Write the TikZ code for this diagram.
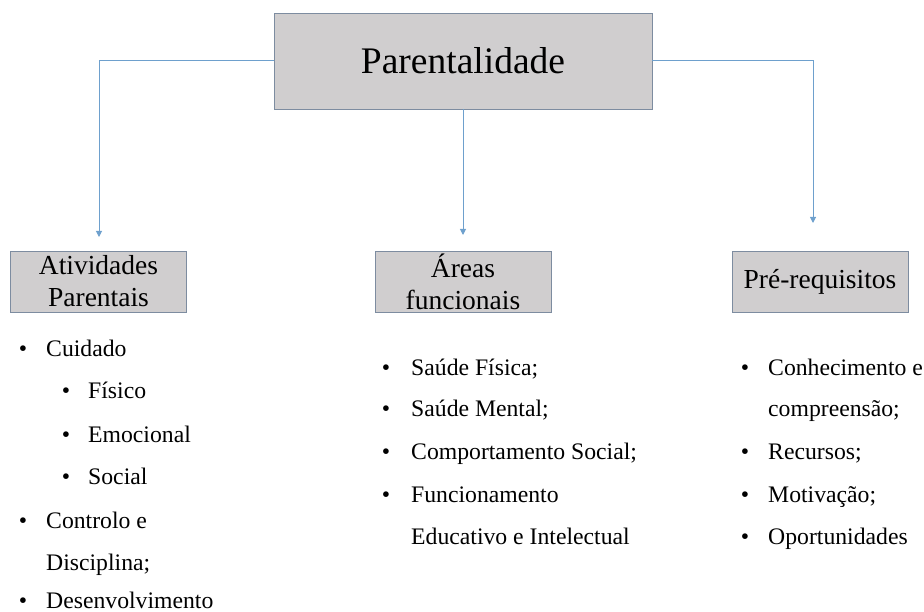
\documentclass[tikz,border=0pt]{standalone}
\usepackage{fontspec}
\setmainfont{Liberation Serif}
\usetikzlibrary{arrows.meta,calc}
\definecolor{boxfill}{RGB}{208,206,207}
\definecolor{boxline}{RGB}{125,140,160}
\definecolor{connblue}{RGB}{110,160,205}
\tikzset{
  x=1pt,y=-1pt,
  topbox/.style={draw=boxline,line width=0.9pt,fill=boxfill,minimum width=378pt,minimum height=96pt,inner sep=0pt,font=\fontsize{37.5}{42}\selectfont},
  catbox/.style={draw=boxline,line width=0.9pt,fill=boxfill,minimum width=176pt,minimum height=61pt,inner sep=0pt,align=center,font=\fontsize{27.5}{32}\selectfont},
  conn/.style={draw=connblue,line width=1pt,-{Triangle[width=6pt,length=6pt]}},
  itemtext/.style={anchor=base west,inner sep=0pt,font=\fontsize{23.7}{28}\selectfont},
  bul/.style={anchor=base,inner sep=0pt,font=\fontsize{23.7}{28}\selectfont}
}
\begin{document}
\begin{tikzpicture}
\useasboundingbox (0,0) rectangle (924,612);
\node[topbox] (main) at (463,61) {Parentalidade};
\node[catbox] (atv) at (98.5,281.5) {Atividades\\Parentais};
\node[catbox] (are) at (463,281.5) {Áreas\\funcionais};
\node[catbox] (pre) at (820,281.5) {Pré-requisitos};
\coordinate (tipL) at (99,237);
\coordinate (tipM) at (463,235);
\coordinate (tipR) at (813,223);
\draw[conn] (main.west) -| (tipL);
\draw[conn] (main.south) -- (tipM);
\draw[conn] (main.east) -| (tipR);
% left list
\node[bul] (b1) at (23,357) {•};
\node[itemtext] (t1) at (46,357) {Cuidado};
\node[bul] (b2) at (66,399) {•};
\node[itemtext] (t2) at (88,399) {Físico};
\node[bul] (b3) at (66,442) {•};
\node[itemtext] (t3) at (88,442) {Emocional};
\node[bul] (b4) at (66,484) {•};
\node[itemtext] (t4) at (88,484) {Social};
\node[bul] (b5) at (23,528) {•};
\node[itemtext] (t5) at (46,528) {Controlo e};
\node[itemtext] (t6) at (46,570) {Disciplina;};
\node[bul] (b7) at (23,608) {•};
\node[itemtext] (t7) at (46,608) {Desenvolvimento};
% middle list
\node[bul] (m1) at (386,375) {•};
\node[itemtext] (u1) at (411,375) {Saúde Física;};
\node[bul] (m2) at (386,417) {•};
\node[itemtext] (u2) at (411,417) {Saúde Mental;};
\node[bul] (m3) at (386,459) {•};
\node[itemtext] (u3) at (411,459) {Comportamento Social;};
\node[bul] (m4) at (386,502) {•};
\node[itemtext] (u4) at (411,502) {Funcionamento};
\node[itemtext] (u5) at (411,544) {Educativo e Intelectual};
% right list
\node[bul] (r1) at (745,375) {•};
\node[itemtext] (v1) at (768,375) {Conhecimento e};
\node[itemtext] (v2) at (768,417) {compreensão;};
\node[bul] (r3) at (745,459) {•};
\node[itemtext] (v3) at (768,459) {Recursos;};
\node[bul] (r4) at (745,502) {•};
\node[itemtext] (v4) at (768,502) {Motivação;};
\node[bul] (r5) at (745,544) {•};
\node[itemtext] (v5) at (768,544) {Oportunidades};
\end{tikzpicture}
\end{document}
